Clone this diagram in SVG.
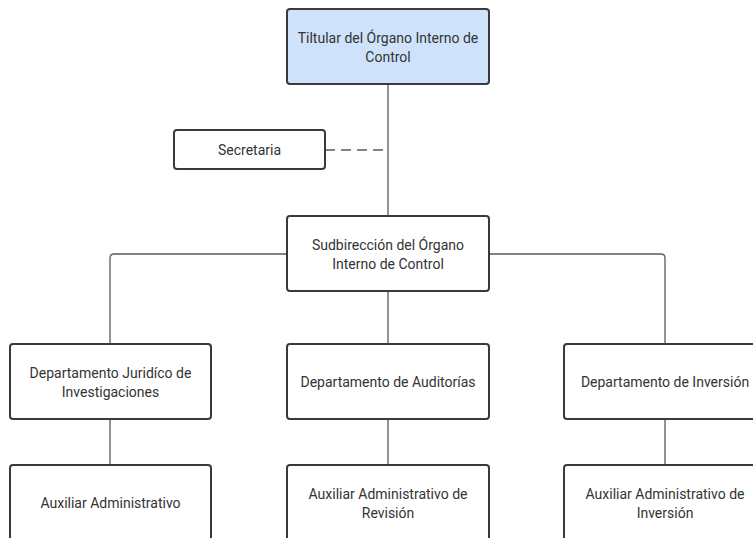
<svg xmlns="http://www.w3.org/2000/svg" width="753" height="538" viewBox="0 0 753 538">
<style>
.box{fill:#ffffff;stroke:#3a3a3a;stroke-width:2}
.top{fill:#cfe2fb}
.t{font-family:Roboto,"Liberation Sans",Arial,sans-serif;font-size:14px;fill:#333333;text-anchor:middle}
.c{fill:none;stroke:#5a5a5a;stroke-width:1.3}
</style>
<rect width="753" height="538" fill="#ffffff"/>
<g id="connectors">
<path class="c" d="M388 84V216"/>
<path class="c" d="M325 150H388" stroke-dasharray="10 6"/>
<path class="c" d="M287 254H114Q110 254 110 258V344"/>
<path class="c" d="M489 254H661Q665 254 665 258V344"/>
<path class="c" d="M388 291V344"/>
<path class="c" d="M110 419V465"/>
<path class="c" d="M388 419V465"/>
<path class="c" d="M665 419V465"/>
</g>
<g id="n_titular">
<rect class="box top" x="287" y="9" width="202" height="75" rx="3"/>
<text class="t" x="388" y="43">Tiltular del Órgano Interno de</text>
<text class="t" x="388" y="62">Control</text>
</g>
<g id="n_secretaria">
<rect class="box" x="174" y="130" width="151" height="39" rx="3"/>
<text class="t" x="249.5" y="154.5">Secretaria</text>
</g>
<g id="n_sub">
<rect class="box" x="287" y="216" width="202" height="75" rx="3"/>
<text class="t" x="388" y="250">Sudbirección del Órgano</text>
<text class="t" x="388" y="269">Interno de Control</text>
</g>
<g id="n_juridico">
<rect class="box" x="10" y="344" width="201" height="75" rx="3"/>
<text class="t" x="110.5" y="378">Departamento Juridíco de</text>
<text class="t" x="110.5" y="397">Investigaciones</text>
</g>
<g id="n_auditorias">
<rect class="box" x="287" y="344" width="202" height="75" rx="3"/>
<text class="t" x="388" y="387">Departamento de Auditorías</text>
</g>
<g id="n_inversion">
<rect class="box" x="564" y="344" width="202" height="75" rx="3"/>
<text class="t" x="665" y="387">Departamento de Inversión</text>
</g>
<g id="n_aux1">
<rect class="box" x="10" y="465" width="201" height="75" rx="3"/>
<text class="t" x="110.5" y="508">Auxiliar Administrativo</text>
</g>
<g id="n_aux2">
<rect class="box" x="287" y="465" width="202" height="75" rx="3"/>
<text class="t" x="388" y="499">Auxiliar Administrativo de</text>
<text class="t" x="388" y="518">Revisión</text>
</g>
<g id="n_aux3">
<rect class="box" x="564" y="465" width="202" height="75" rx="3"/>
<text class="t" x="665" y="499">Auxiliar Administrativo de</text>
<text class="t" x="665" y="518">Inversión</text>
</g>
</svg>
